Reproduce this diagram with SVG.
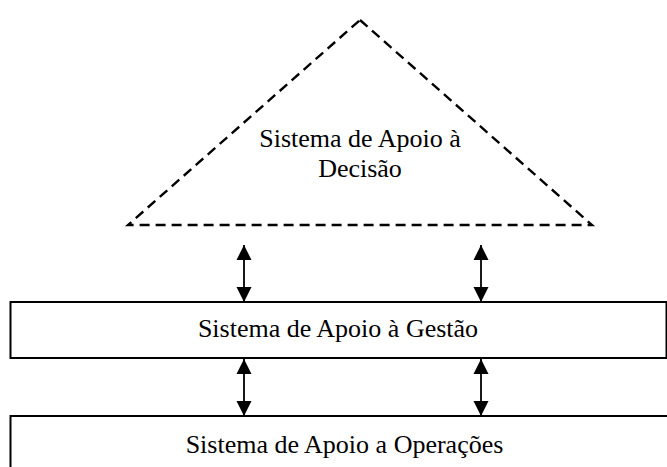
<svg xmlns="http://www.w3.org/2000/svg" width="667" height="467" viewBox="0 0 667 467">
<style>
.lbl{font-family:"Liberation Serif","Times New Roman",serif;font-size:26px;fill:#000;text-anchor:middle}
.box{fill:#fff;stroke:#000;stroke-width:2}
.tri{fill:none;stroke:#000;stroke-width:2.4;stroke-dasharray:10,6}
.con{stroke:#000;stroke-width:1.8;fill:none;marker-start:url(#ah);marker-end:url(#ah)}
</style>
<defs>
<marker id="ah" markerUnits="userSpaceOnUse" markerWidth="17" markerHeight="17" viewBox="0 0 17 17" refX="15" refY="8.5" orient="auto-start-reverse">
<path d="M0,1 L15,8.5 L0,16 Z" fill="#000"/>
</marker>
</defs>
<g id="decisao">
<path class="tri" d="M360,20 L592,225 L128,225 Z"/>
<text class="lbl" x="360" y="147">Sistema de Apoio à</text>
<text class="lbl" x="360" y="177">Decisão</text>
</g>
<g id="gestao">
<rect class="box" x="10.5" y="302" width="656" height="56"/>
<text class="lbl" x="338" y="337">Sistema de Apoio à Gestão</text>
</g>
<g id="operacoes">
<rect class="box" x="10.5" y="416" width="700" height="100"/>
<text class="lbl" x="344.5" y="453">Sistema de Apoio a Operações</text>
</g>
<g id="connectors">
<line class="con" x1="244" y1="245" x2="244" y2="302"/>
<line class="con" x1="481" y1="245" x2="481" y2="302"/>
<line class="con" x1="244" y1="359" x2="244" y2="416"/>
<line class="con" x1="481" y1="359" x2="481" y2="416"/>
</g>
</svg>
